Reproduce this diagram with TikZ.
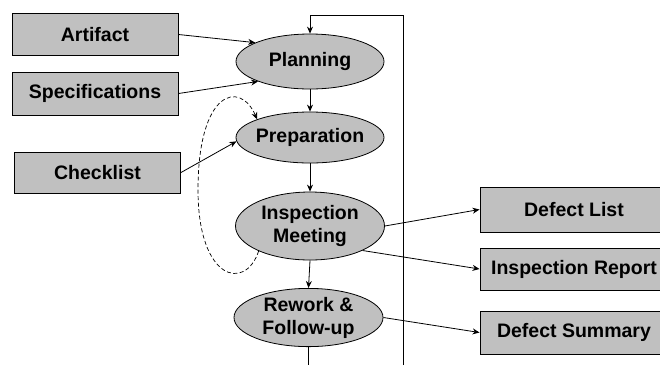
\documentclass[tikz,border=0pt]{standalone}
\usepackage{fontspec}
\setmainfont{Liberation Sans}
\usetikzlibrary{shapes.geometric,arrows.meta}
\definecolor{boxgray}{RGB}{192,192,192}
\begin{document}
\begin{tikzpicture}[x=1pt,y=-1pt,
  lbl/.style={font=\fontsize{19.5}{23}\selectfont\bfseries, text=black, align=center},
  doc/.style={lbl, draw=black, line width=1pt, fill=boxgray, rectangle, inner sep=0pt},
  proc/.style={lbl, draw=black, line width=0.8pt, fill=boxgray, ellipse, inner sep=0pt, inner xsep=-4pt},
  conn/.style={line width=0.8pt, -{Stealth[length=7pt,width=6pt]}},
  loopdash/.style={line width=0.7pt, dash pattern=on 4pt off 2.5pt, -{Stealth[length=7pt,width=6pt]}},
]
\useasboundingbox (0,0) rectangle (660,365);
% input documents
\node[doc, minimum width=166pt, minimum height=42pt] (art) at (95,34.5) {Artifact};
\node[doc, minimum width=166pt, minimum height=43pt] (spec) at (95,93.5) {Specifications};
\node[doc, minimum width=166pt, minimum height=41pt] (check) at (97.5,172.5) {Checklist};
% process steps
\node[proc, minimum width=148pt, minimum height=55pt] (plan) at (310,61.5) {Planning};
\node[proc, minimum width=148pt, minimum height=51pt] (prep) at (310,137.5) {Preparation};
\node[proc, minimum width=149pt, minimum height=68pt] (insp) at (310,226) {Inspection\\Meeting};
\node[proc, minimum width=149pt, minimum height=55pt] (rew) at (308.5,317.5) {Rework \&\\Follow-up};
% output documents
\node[doc, minimum width=188pt, minimum height=45pt] (dlist) at (574,209.5) {Defect List};
\node[doc, minimum width=188pt, minimum height=42pt] (irep) at (574,269) {Inspection Report};
\node[doc, minimum width=188pt, minimum height=43pt] (dsum) at (574,332.5) {Defect Summary};
% loop-back line
\coordinate (loopB) at (403,365);
\coordinate (loopT) at (403,15);
\coordinate (rewB) at (308.5,365);
% connectors
\draw[conn] (art.east) -- (plan.161);
\draw[conn] (spec.east) -- (plan.201);
\draw[conn] (check.east) -- (prep.183);
\draw[conn] (plan.south) -- (prep.north);
\draw[conn] (prep.south) -- (insp.north);
\draw[conn] (insp.south) -- (rew.north);
\draw[conn] (insp.east) -- (dlist.west);
\draw[conn] (insp.335) -- (irep.west);
\draw[conn] (rew.east) -- (dsum.west);
\draw[line width=0.8pt] (rew.south) -- (rewB);
\draw[conn] (loopB) -- (loopT) -| (plan.north);
\draw[loopdash] (insp.206) .. controls (245,292) and (198,280) .. (198,190)
  .. controls (198,90) and (240,80) .. (prep.161);
\end{tikzpicture}
\end{document}
